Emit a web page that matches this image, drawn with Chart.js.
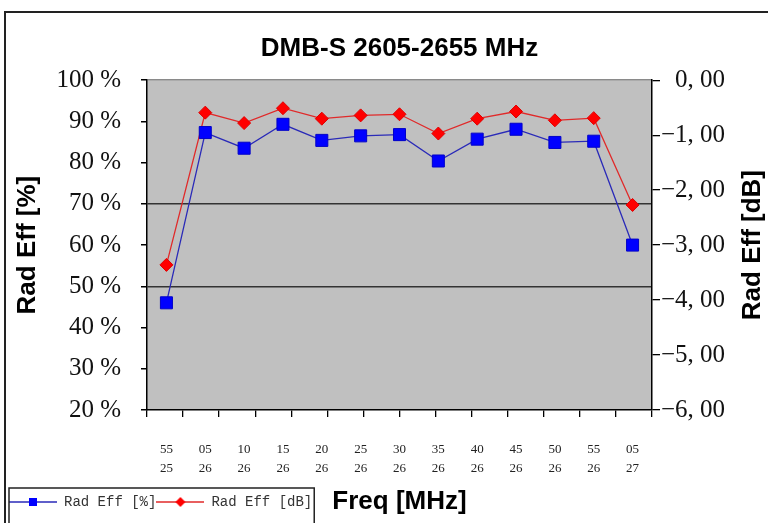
<!DOCTYPE html>
<html>
<head>
<meta charset="utf-8">
<script src="https://cdn.jsdelivr.net/npm/chart.js@4.4.1/dist/chart.umd.min.js"></script>
<style>
  html, body { margin: 0; padding: 0; background: #fff; }
  #wrap { width: 768px; height: 523px; position: relative; }
</style>
</head>
<body>
<div id="wrap"><canvas id="effChart"></canvas></div>
<script>
// ─── data ────────────────────────────────────────────────────────────────────
const FREQ_LABELS = ['2555', '2605', '2610', '2615', '2620', '2625', '2630',
                     '2635', '2640', '2645', '2650', '2655', '2705'];
const EFF_PCT = [46.0, 87.3, 83.5, 89.3, 85.4, 86.5, 86.8, 80.4, 85.7, 88.1, 84.9, 85.2, 60.0];
const EFF_DB  = [-3.36, -0.59, -0.78, -0.51, -0.70, -0.64, -0.62, -0.97, -0.70, -0.57, -0.73, -0.69, -2.27];
const PCT_GRID = [70, 50];          // the only horizontal grid lines drawn in the plot

const SERIF = "'Liberation Serif', 'DejaVu Serif', serif";
const SANS  = "'Liberation Sans', Arial, sans-serif";
const MONO  = "'Liberation Mono', 'DejaVu Sans Mono', monospace";

// legend glyph: short line with the series marker in the middle
function legendGlyph(lineColor, fill, kind) {
  const c = document.createElement('canvas');
  c.width = 48; c.height = 12;
  const g = c.getContext('2d');
  g.strokeStyle = lineColor; g.lineWidth = 1.3;
  g.beginPath(); g.moveTo(0, 6); g.lineTo(48, 6); g.stroke();
  g.fillStyle = fill;
  if (kind === 'rect') g.fillRect(20, 2, 8, 8);
  else { g.beginPath(); g.moveTo(24, 1); g.lineTo(29, 6); g.lineTo(24, 11); g.lineTo(19, 6); g.closePath(); g.fill(); }
  return c;
}

const plotBg = {
  id: 'plotBg',
  beforeDraw(chart) {
    const { ctx, chartArea: a } = chart;
    ctx.save();
    ctx.fillStyle = '#c0c0c0';
    ctx.fillRect(a.left, a.top, a.right - a.left, a.bottom - a.top);
    ctx.restore();
  },
  afterDraw(chart) {
    const { ctx } = chart;
    ctx.save();
    // outer frame (only top + left fall inside the picture)
    ctx.strokeStyle = '#222'; ctx.lineWidth = 2;
    ctx.strokeRect(5, 12, 900, 900);
    // legend box
    const L = chart.legend, hb = L.legendHitBoxes;
    if (hb && hb.length) {
      const last = hb[hb.length - 1];
      ctx.lineWidth = 1.5;
      ctx.strokeRect(L.left, L.top - 7, last.left + last.width + 2 - L.left, L.height + 30);
    }
    // right axis title, reading bottom-to-top like the left one
    const t = chart.scales.y1.options.title;
    ctx.font = `bold ${t.font.size}px ${SANS}`;
    ctx.fillStyle = t.color;
    ctx.textAlign = 'center'; ctx.textBaseline = 'middle';
    ctx.translate(chart.width - 15, (chart.chartArea.top + chart.chartArea.bottom) / 2);
    ctx.rotate(-Math.PI / 2);
    ctx.fillText(t.text, 0, 0);
    ctx.restore();
  }
};

new Chart(document.getElementById('effChart'), {
  type: 'line',
  data: {
    labels: FREQ_LABELS,
    datasets: [
      {
        label: 'Rad Eff [%]', data: EFF_PCT, yAxisID: 'y', xAxisID: 'x',
        borderColor: '#2a2ab8', borderWidth: 1.3,
        pointStyle: 'rect', pointRadius: 8.5, pointBackgroundColor: '#0000ff',
        pointBorderColor: '#0000c8', pointBorderWidth: 1,
        glyph: legendGlyph('#2a2ab8', '#0000ff', 'rect'),
      },
      {
        label: 'Rad Eff [dB]', data: EFF_DB, yAxisID: 'y1', xAxisID: 'x',
        borderColor: '#e02a2a', borderWidth: 1.3,
        pointStyle: 'rectRot', pointRadius: 6.5, pointBackgroundColor: '#ff0000',
        pointBorderColor: '#e00000', pointBorderWidth: 1,
        glyph: legendGlyph('#e02a2a', '#ff0000', 'diamond'),
      },
    ],
  },
  options: {
    responsive: true, maintainAspectRatio: false, animation: false,
    layout: { padding: { left: 9, right: 43, top: 12, bottom: 4 } },
    plugins: {
      title: {
        display: true, fullSize: false, text: 'DMB-S 2605-2655 MHz', color: '#000',
        font: { family: SANS, size: 26, weight: 'bold' },
        padding: { top: 21, bottom: 16 },
      },
      legend: {
        position: 'bottom', align: 'start',
        labels: {
          usePointStyle: true, pointStyleWidth: 48, padding: 0,
          color: '#333', font: { family: MONO, size: 14 },
          generateLabels: chart => chart.data.datasets.map((d, i) => ({
            text: d.label, pointStyle: d.glyph, datasetIndex: i,
            fillStyle: d.pointBackgroundColor, strokeStyle: d.borderColor, lineWidth: 0,
            fontColor: '#333',
          })),
        },
      },
      tooltip: { enabled: false },
    },
    scales: {
      xt: {
        type: 'linear', position: 'bottom', min: 0, max: 14, weight: 0,
        ticks: { display: false, stepSize: 1 },
        grid: { drawOnChartArea: false, tickLength: 7, tickColor: '#000', lineWidth: 1.3 },
        border: { color: '#000', width: 1.5 },
        afterFit: s => { s.height = 7; },
      },
      x: {
        type: 'category', position: 'bottom', offset: true, weight: 1,
        grid: { display: false, drawTicks: false },
        border: { display: false },
        ticks: {
          color: '#222', padding: 23, maxRotation: 0, autoSkip: false,
          font: { family: SERIF, size: 13, lineHeight: 1.45 },
          callback: function (v) { const f = this.getLabelForValue(v); return [f.slice(2), f.slice(0, 2)]; },
        },
        title: {
          display: true, text: 'Freq [MHz]', color: '#000',
          font: { family: SANS, size: 26, weight: 'bold' },
          padding: { top: 0, bottom: -22.6 },
        },
        afterFit: s => { s.height = 78; },
      },
      y: {
        position: 'left', min: 20, max: 100,
        ticks: {
          stepSize: 10, color: '#111', padding: 20,
          font: { family: SERIF, size: 25 },
          callback: v => v + ' %',
        },
        grid: {
          color: c => PCT_GRID.includes(c.tick.value) ? '#333' : (c.tick.value === 100 ? '#8a8a8a' : 'rgba(0,0,0,0)'),
          lineWidth: 1.5, tickLength: 6, tickColor: '#000',
        },
        border: { color: '#000', width: 1.5 },
        title: {
          display: true, text: 'Rad Eff [%]', color: '#000',
          font: { family: SANS, size: 26, weight: 'bold' },
          padding: { top: 3, bottom: 0 },
        },
        afterFit: s => { s.width = 138; },
      },
      y1: {
        position: 'right', min: -6, max: 0,
        ticks: {
          stepSize: 1, color: '#111', padding: 6, crossAlign: 'far',
          font: { family: SERIF, size: 25 },
          callback: v => v.toFixed(2).replace('.', ', ').replace('-', '\u2212'),
        },
        grid: { drawOnChartArea: false, tickLength: 8, tickColor: '#000', lineWidth: 1.3 },
        border: { color: '#000', width: 1.5 },
        title: { display: false, text: 'Rad Eff [dB]', color: '#000', font: { family: SANS, size: 26, weight: 'bold' } },
        afterFit: s => { s.width = 73; },
      },
    },
  },
  plugins: [plotBg],
});
</script>
</body>
</html>
